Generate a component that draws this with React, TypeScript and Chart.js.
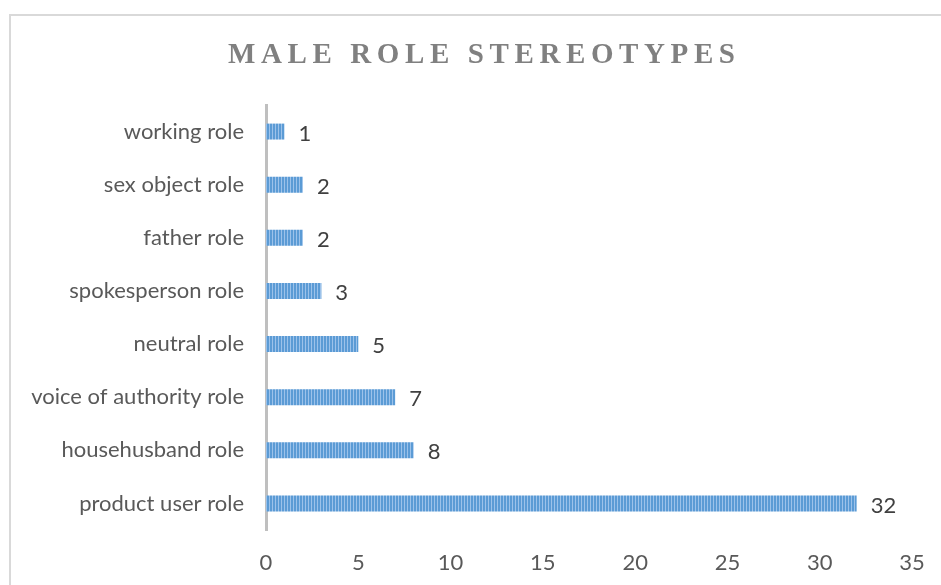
import React, { useEffect, useRef } from "react";
import { Chart, registerables } from "chart.js";

Chart.register(...registerables);

const titleText = "MALE ROLE STEREOTYPES";
const categories = [
  "working role",
  "sex object role",
  "father role",
  "spokesperson role",
  "neutral role",
  "voice of authority role",
  "househusband role",
  "product user role",
];
const counts = [1, 2, 2, 3, 5, 7, 8, 32];
const xMin = 0;
const xMax = 35;
const xStep = 5;

const LABEL_FONT = "Lato, 'Open Sans', sans-serif";

function makePattern(): CanvasPattern | string {
  const c = document.createElement("canvas");
  c.width = 3;
  c.height = 4;
  const g = c.getContext("2d");
  if (!g) return "#5b9bd5";
  g.fillStyle = "#5b9bd5";
  g.fillRect(0, 0, 3, 4);
  g.fillStyle = "#9cc2ea";
  g.fillRect(2, 0, 1, 4);
  const p = g.createPattern(c, "repeat");
  return p || "#5b9bd5";
}

const framePlugin = {
  id: "frameAndTitle",
  beforeDraw(chart: any) {
    const ctx = chart.ctx;
    ctx.save();
    ctx.fillStyle = "#ffffff";
    ctx.fillRect(0, 0, chart.width, chart.height);
    ctx.strokeStyle = "#d9d9d9";
    ctx.lineWidth = 2;
    ctx.strokeRect(10, 15, chart.width + 20, chart.height + 20);
    // title
    ctx.font = "bold 29px 'Liberation Serif', 'Times New Roman', serif";
    ctx.fillStyle = "#808080";
    ctx.textBaseline = "alphabetic";
    const natural = ctx.measureText(titleText).width;
    const targetW = 507;
    const spacing = (targetW - natural) / (titleText.length - 1);
    let x = 481.5 - targetW / 2;
    for (const ch of titleText) {
      ctx.textAlign = "left";
      ctx.fillText(ch, x, 63);
      x += ctx.measureText(ch).width + spacing;
    }
    ctx.restore();
  },
  afterDatasetsDraw(chart: any) {
    const ctx = chart.ctx;
    const meta = chart.getDatasetMeta(0);
    ctx.save();
    ctx.font = "22px " + LABEL_FONT;
    ctx.fillStyle = "#404040";
    ctx.textAlign = "left";
    ctx.textBaseline = "middle";
    meta.data.forEach((el: any, i: number) => {
      ctx.fillText(String(counts[i]), el.x + 14, el.y + 2);
    });
    ctx.restore();
  },
};

export default function App() {
  const ref = useRef<HTMLCanvasElement | null>(null);
  useEffect(() => {
    if (!ref.current) return;
    const chart = new Chart(ref.current, {
      type: "bar",
      data: {
        labels: categories,
        datasets: [
          {
            data: counts,
            backgroundColor: makePattern() as any,
            borderWidth: 0,
            barPercentage: 0.3,
            categoryPercentage: 1,
          },
        ],
      },
      options: {
        indexAxis: "y",
        animation: false,
        responsive: false,
        layout: { padding: { left: 0, right: 29, top: 105, bottom: 0 } },
        plugins: {
          legend: { display: false },
          tooltip: { enabled: false },
          title: { display: false },
        },
        scales: {
          x: {
            min: xMin,
            max: xMax,
            grid: { display: false, drawTicks: false },
            border: { display: false },
            ticks: {
              stepSize: xStep,
              padding: 20,
              color: "#595959",
              font: { family: LABEL_FONT, size: 22 },
            },
            afterFit(scale: any) {
              scale.height = 55;
              scale.paddingLeft = 0;
              scale.paddingRight = 0;
            },
          },
          y: {
            grid: { display: false, drawTicks: false },
            border: { display: true, color: "#bfbfbf", width: 3 },
            ticks: {
              padding: 22,
              color: "#595959",
              font: { family: LABEL_FONT, size: 22 },
            },
            afterFit(scale: any) {
              scale.width = 266;
              scale.paddingTop = 0;
              scale.paddingBottom = 0;
            },
          },
        },
      },
      plugins: [framePlugin],
    });
    return () => chart.destroy();
  }, []);
  return (
    <div style={{ position: "absolute", left: 0, top: 0, width: 941, height: 585 }}>
      <canvas ref={ref} width={941} height={585} style={{ display: "block" }} />
    </div>
  );
}
